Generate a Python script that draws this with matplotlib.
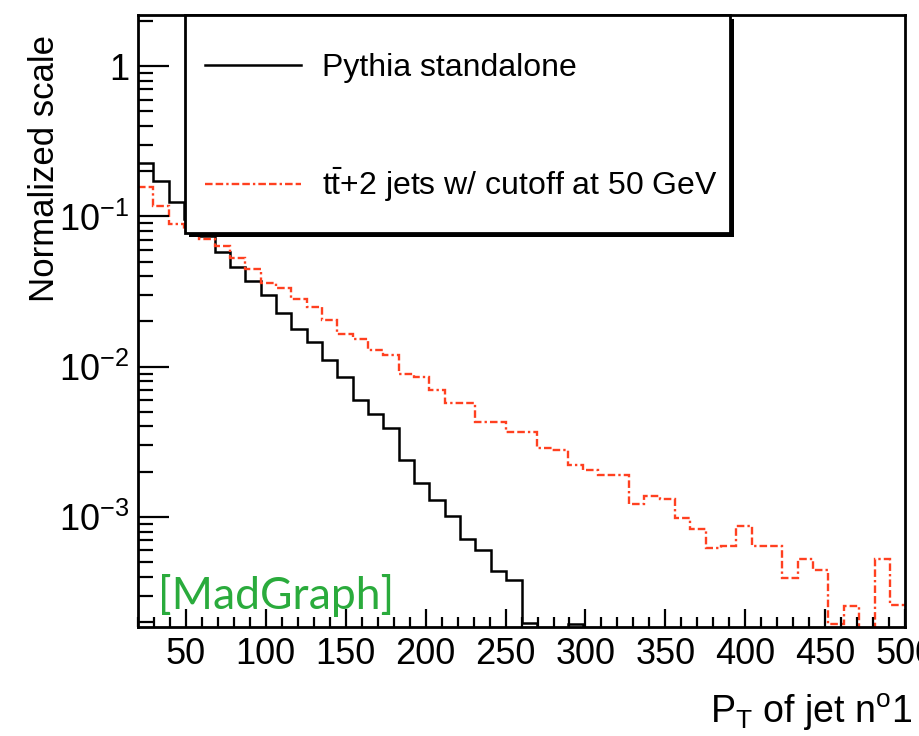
import numpy as np
import matplotlib
matplotlib.use("Agg")
import matplotlib.pyplot as plt
from matplotlib.patches import Rectangle
from matplotlib.ticker import FixedLocator, FixedFormatter, LogLocator, MultipleLocator, NullFormatter

plt.rcParams['font.family'] = ['Liberation Sans', 'DejaVu Sans']
plt.rcParams['mathtext.fontset'] = 'custom'
plt.rcParams['mathtext.rm'] = 'Liberation Sans'
plt.rcParams['mathtext.it'] = 'Liberation Sans:italic'
plt.rcParams['mathtext.default'] = 'regular'

# 50 bins of pT between 20 and 500 GeV
x_min, x_max, n_bins = 20, 500, 50

pythia = [0.226, 0.171, 0.124, 0.0955, 0.0736, 0.0584, 0.0464, 0.0369, 0.0302, 0.0229,
          0.0179, 0.0147, 0.0110, 0.00858, 0.00603, 0.00486, 0.00392, 0.00240, 0.00169, 0.00130,
          0.00102, 0.000713, 0.000603, 0.000437, 0.000380, 0.000197, 0, 0, 0.000194, 0,
          0, 0, 0, 0, 0, 0, 0, 0, 0, 0,
          0, 0, 0, 0, 0, 0, 0, 0, 0, 0]
ttjj = [0.158, 0.117, 0.0885, 0.0794, 0.0703, 0.0631, 0.0525, 0.0450, 0.0363, 0.0336,
        0.0284, 0.0251, 0.0203, 0.0166, 0.0154, 0.0130, 0.0120, 0.00898, 0.00858, 0.00703,
        0.00575, 0.00575, 0.00430, 0.00430, 0.00369, 0.00369, 0.00288, 0.00280, 0.00222, 0.00206,
        0.00191, 0.00191, 0.00122, 0.00138, 0.00132, 0.000985, 0.000832, 0.000621, 0.000641, 0.000871,
        0.000641, 0.000641, 0.000392, 0.000525, 0.000443, 0.000194, 0.000255, 0, 0.000525, 0.000259]

labels = ["Pythia standalone", r"$\mathrm{t\bar{t}}$+2 jets w/ cutoff at 50 GeV"]
y_lo, y_hi = 1.85e-4, 2.2

edges = np.linspace(x_min, x_max, n_bins + 1)
floor = 1e-6  # empty bins drop below the frame

fig = plt.figure(figsize=(9.19, 7.36), dpi=100)
ax = fig.add_axes([0.150, 0.148, 0.835, 0.832])

ax.stairs(np.where(np.array(pythia) > 0, pythia, floor), edges, baseline=None,
          color='black', lw=1.8, label=labels[0])
ax.stairs(np.where(np.array(ttjj) > 0, ttjj, floor), edges, baseline=None,
          color='#ff4020', lw=1.7, linestyle=(0, (3.2, 1.3, 3.2, 1.3, 1, 1.3)), label=labels[1])

ax.set_yscale('log')
ax.set_xlim(x_min, x_max)
ax.set_ylim(y_lo, y_hi)

ax.xaxis.set_major_locator(MultipleLocator(50))
ax.xaxis.set_minor_locator(MultipleLocator(10))
ax.yaxis.set_major_locator(FixedLocator([1e-3, 1e-2, 1e-1, 1]))
ax.yaxis.set_major_formatter(FixedFormatter(["$10^{-3}$", "$10^{-2}$", "$10^{-1}$", "1"]))
ax.yaxis.set_minor_locator(LogLocator(base=10, subs=np.arange(2, 10)))
ax.yaxis.set_minor_formatter(NullFormatter())

ax.tick_params(axis='both', which='both', direction='in', top=False, right=False,
               labelsize=26, width=1.6, color='black')
ax.tick_params(axis='x', which='major', length=13, pad=7)
ax.tick_params(axis='x', which='minor', length=7)
ax.tick_params(axis='y', which='major', length=22, pad=6)
ax.tick_params(axis='y', which='minor', length=11)
for s in ax.spines.values():
    s.set_linewidth(2)

# ROOT-style legend box: white box with a solid black drop shadow
box_x, box_y, box_w, box_h = 0.0613, 0.644, 0.711, 0.356
ax.add_patch(Rectangle((box_x + 0.005, box_y - 0.0065), box_w, box_h, transform=ax.transAxes,
                       facecolor='black', edgecolor='none', zorder=4, clip_on=False))
ax.add_patch(Rectangle((box_x, box_y), box_w, box_h, transform=ax.transAxes,
                       facecolor='white', edgecolor='black', lw=2, zorder=5, clip_on=False))

leg = ax.legend(loc='upper left', bbox_to_anchor=(0.0874, 0.938), frameon=False,
                fontsize=23, labelspacing=2.6, handlelength=3.0, handletextpad=0.65,
                borderpad=0, borderaxespad=0)
leg.set_zorder(6)

ax.text(0.026, 0.03, "[MadGraph]", transform=ax.transAxes, fontsize=32,
        family=['Lato', 'DejaVu Sans'], color='#2aab3c', ha='left', va='baseline')

fig.text(45 / 919, 1 - 35 / 736, "Normalized scale", rotation=90, fontsize=25,
         ha='center', va='top')
fig.text(912 / 919, 1 - 712 / 736, r"P$_\mathrm{T}$ of jet n$^\mathrm{o}$1", fontsize=27,
         ha='right', va='center')

fig.savefig("out.png", dpi=100)
